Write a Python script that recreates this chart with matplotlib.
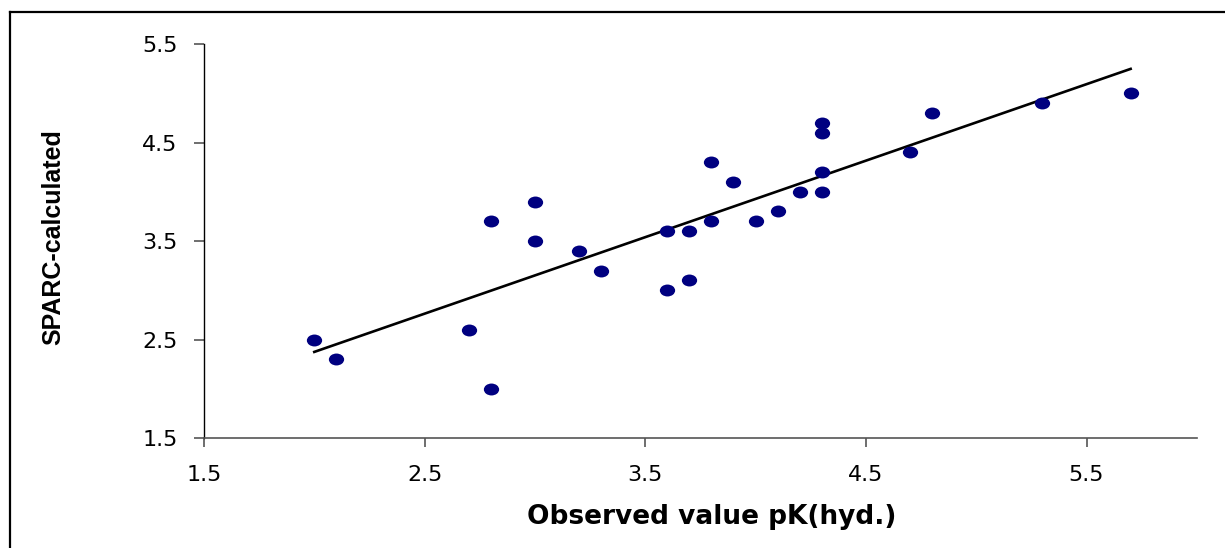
import numpy as np
import matplotlib.pyplot as plt
from matplotlib.path import Path
from matplotlib.transforms import Affine2D
from matplotlib.lines import Line2D

# observed vs calculated values
observed = [2.0, 2.1, 2.7, 2.8, 2.8, 3.0, 3.0, 3.2, 3.3, 3.6, 3.6, 3.7, 3.7,
            3.8, 3.8, 3.9, 4.0, 4.1, 4.2, 4.3, 4.3, 4.3, 4.3, 4.7, 4.8, 5.3, 5.7]
calculated = [2.5, 2.3, 2.6, 3.7, 2.0, 3.9, 3.5, 3.4, 3.2, 3.6, 3.0, 3.6, 3.1,
              4.3, 3.7, 4.1, 3.7, 3.8, 4.0, 4.7, 4.6, 4.2, 4.0, 4.4, 4.8, 4.9, 5.0]
ticks = [1.5, 2.5, 3.5, 4.5, 5.5]

plt.rcParams['font.family'] = ['DejaVu Sans']

obs = np.array(observed)
calc = np.array(calculated)
slope, icpt = np.polyfit(obs, calc, 1)
xfit = np.array([obs.min(), obs.max()])

# flat ellipse marker like the Excel one
ell = Path.unit_circle().transformed(Affine2D().scale(1.0, 0.78))

fig = plt.figure(figsize=(12.25, 5.48), dpi=100)
ax = fig.add_axes([0.1665, 0.2007, 0.977 - 0.1665, 0.9197 - 0.2007])

ax.scatter(obs, calc, marker=ell, s=11**2, color='#000080', zorder=3, linewidths=0)
ax.plot(xfit, slope * xfit + icpt, color='black', lw=1.9, zorder=2)

ax.set_xlim(1.5, 6.0)
ax.set_ylim(1.5, 5.5)
ax.set_xticks(ticks)
ax.set_yticks(ticks)
ax.set_xticklabels([str(t) for t in ticks])
ax.set_yticklabels([str(t) for t in ticks])

for s in ['top', 'right']:
    ax.spines[s].set_visible(False)
ax.spines['left'].set_color('black')
ax.spines['bottom'].set_color('#555555')
ax.spines['left'].set_linewidth(1.0)
ax.spines['bottom'].set_linewidth(1.2)

ax.tick_params(axis='x', length=6.5, width=1.2, color='#555555', pad=13, labelsize=16)
ax.tick_params(axis='y', length=7, width=1.2, color='#555555', pad=12, labelsize=16)

ax.set_xlabel('Observed value pK(hyd.)', fontsize=19, fontweight='bold')
ax.xaxis.set_label_coords(0.5116, -0.168)
ax.set_ylabel('SPARC-calculated', fontsize=18, fontweight='bold',
              family=['Liberation Sans', 'DejaVu Sans'])
ax.yaxis.set_label_coords(-0.140, 0.510)

# outer frame of the chart area
fig.add_artist(Line2D([10 / 1225, 1.0], [1 - 12 / 548, 1 - 12 / 548], color='black', lw=1.6))
fig.add_artist(Line2D([10 / 1225, 10 / 1225], [0.0, 1 - 12 / 548], color='black', lw=1.6))

fig.savefig('out.png', dpi=100)
